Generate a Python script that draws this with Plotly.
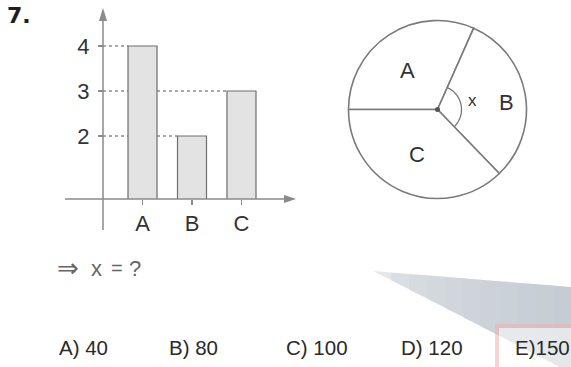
import math
import plotly.graph_objects as go

W, H = 571, 367

# ---------------- data ----------------
categories = ["A", "B", "C"]
bar_values = [4, 2, 3]
y_ticks = [2, 3, 4]
pie_labels = ["A", "B", "C"]
pie_angles = [114, 112, 134]          # slice angles as drawn in the circle (degrees)
angle_label = "x"
question_parts = ["⇒", "x", "=", "?"]
problem_number = "7."
answer_labels = ["A) 40", "B) 80", "C) 100", "D) 120", "E)150"]


def px(x):
    return x / W


def py(y):
    return 1 - y / H


FONT = "Liberation Sans, Arial, Helvetica, sans-serif"
AXIS_GREY = "#8a8a8a"

fig = go.Figure()

bar_w = 0.586
fig.add_trace(go.Bar(
    x=categories, y=bar_values, width=bar_w,
    marker=dict(color="#e3e3e3", line=dict(color="#6e6e6e", width=1.2)),
    hoverinfo="skip", showlegend=False,
))

fig.add_trace(go.Pie(
    labels=pie_labels, values=pie_angles, sort=False,
    direction="clockwise", rotation=270, textinfo="none",
    marker=dict(colors=["white"] * 3, line=dict(color="#7a7a7a", width=1.6)),
    domain=dict(x=[px(348.5), px(526.5)], y=[py(198.5), py(20.5)]),
    hoverinfo="skip", showlegend=False,
))

# axis geometry (pixel layout of the sketch)
x_left_px, x_right_px = 65, 295
y_top_px, y_base_px = 10, 199
x_range = [-1.566, 3.081]
y_range = [0.6, 4.8]
yaxis_px = 103


def data_x_of_px(p):
    return x_range[0] + (p - x_left_px) / (x_right_px - x_left_px) * (x_range[1] - x_range[0])


shapes = []

# watermark (faded logo) in the lower right, drawn as gradient strips
def wm_top(x):
    return 271 + (x - 373) * (16 / 198)


def wm_bot(x):
    return min(367, 271 + (x - 373) * 0.515)


strip_edges = [373 + k * 18 for k in range(12)] + [571]
def lerp_col(t):
    c0 = (228, 231, 234)
    c1 = (196, 203, 210)
    return "rgb(%d,%d,%d)" % tuple(round(a + (b - a) * t) for a, b in zip(c0, c1))

xm = 373 + (367 - 271) / 0.515
for k in range(len(strip_edges) - 1):
    xa, xb = strip_edges[k], strip_edges[k + 1]
    if xa < xm < xb:
        poly = [(xa, wm_top(xa)), (xb + 0.6, wm_top(xb)), (xb + 0.6, 367), (xm, 367), (xa, wm_bot(xa))]
    else:
        poly = [(xa, wm_top(xa)), (xb + 0.6, wm_top(xb)), (xb + 0.6, wm_bot(xb)), (xa, wm_bot(xa))]
    t = min(1.0, (k / (len(strip_edges) - 2)) ** 0.5)
    shapes.append(dict(type="path", xref="paper", yref="paper",
                       path="M " + " L ".join(f"{px(a)},{py(b)}" for a, b in poly) + " Z",
                       fillcolor=lerp_col(t), line=dict(width=0), layer="below"))

shapes.append(dict(type="rect", xref="paper", yref="paper",
                   x0=px(499), x1=px(571), y0=py(367), y1=py(328),
                   fillcolor="rgba(255,255,255,0.55)", line=dict(width=0), layer="below"))
shapes.append(dict(type="path", xref="paper", yref="paper",
                   path=f"M {px(497)},{py(367)} L {px(497)},{py(326)} L {px(571)},{py(326)}",
                   line=dict(color="rgba(240,175,175,0.55)", width=4), layer="below"))

# dotted guide lines from y-axis to each bar top
x_axis_data = data_x_of_px(yaxis_px)
for i, v in enumerate(bar_values):
    shapes.append(dict(type="line", xref="x", yref="y",
                       x0=x_axis_data, x1=i - bar_w / 2, y0=v, y1=v,
                       line=dict(color="#555555", width=1, dash="dot"), layer="below"))

# axis lines with arrows
shapes.append(dict(type="line", xref="paper", yref="paper",
                   x0=px(x_left_px), x1=px(288), y0=py(y_base_px), y1=py(y_base_px),
                   line=dict(color=AXIS_GREY, width=1.5)))
shapes.append(dict(type="path", xref="paper", yref="paper",
                   path=f"M {px(284)},{py(195)} L {px(296)},{py(199)} L {px(284)},{py(203)} Z",
                   fillcolor=AXIS_GREY, line=dict(width=0)))
shapes.append(dict(type="line", xref="paper", yref="paper",
                   x0=px(yaxis_px), x1=px(yaxis_px), y0=py(230), y1=py(18),
                   line=dict(color=AXIS_GREY, width=1.5)))
shapes.append(dict(type="path", xref="paper", yref="paper",
                   path=f"M {px(99)},{py(21)} L {px(103)},{py(8)} L {px(107)},{py(21)} Z",
                   fillcolor=AXIS_GREY, line=dict(width=0)))

# angle arc for slice B and centre dot
cx, cy, r_arc = 437.5, 109.5, 24
b_start_compass = (270 + pie_angles[0]) % 360
b_end_compass = b_start_compass + pie_angles[1]
pts = []
n = 40
for k in range(n + 1):
    comp = b_start_compass + (b_end_compass - b_start_compass) * k / n
    a = math.radians(90 - comp)
    pts.append((cx + r_arc * math.cos(a), cy - r_arc * math.sin(a)))
shapes.append(dict(type="path", xref="paper", yref="paper",
                   path="M " + " L ".join(f"{px(a)},{py(b)}" for a, b in pts),
                   line=dict(color="#777777", width=1.3)))
shapes.append(dict(type="circle", xref="paper", yref="paper",
                   x0=px(cx - 2.5), x1=px(cx + 2.5), y0=py(cy + 2.5), y1=py(cy - 2.5),
                   fillcolor="#555555", line=dict(width=0)))

annotations = []


def txt(s, x, y, size, color="#333333", xanchor="center", bold=False, family=FONT):
    annotations.append(dict(text=f"<b>{s}</b>" if bold else s, x=px(x), y=py(y),
                            xref="paper", yref="paper", showarrow=False,
                            xanchor=xanchor, yanchor="middle",
                            font=dict(family=family, size=size, color=color)))


txt(problem_number, 5, 15, 22, "#1e1e1e", xanchor="left", bold=True,
    family="DejaVu Sans, Liberation Sans, sans-serif")

pie_label_pos = [(408, 70), (506, 102), (417, 154)]
for lab, (a, b) in zip(pie_labels, pie_label_pos):
    txt(lab, a, b, 22, "#333333")
txt(angle_label, 472, 101, 17, "#333333")

question_x = [68, 96, 117, 135]
question_size = [26, 22, 20, 22]
for s, a, fs in zip(question_parts, question_x, question_size):
    txt(s, a, 268, fs, "#666666", family="DejaVu Sans, Liberation Sans, sans-serif" if s == "⇒" else FONT)

answer_x = [57, 167, 284, 399, 513]
for lab, a in zip(answer_labels, answer_x):
    txt(lab, a, 347, 20.5, "#2a2a2a", xanchor="left")

fig.update_layout(
    width=W, height=H, autosize=False,
    margin=dict(l=0, r=0, t=0, b=0),
    paper_bgcolor="white", plot_bgcolor="rgba(0,0,0,0)",
    showlegend=False,
    xaxis=dict(domain=[px(x_left_px), px(x_right_px)], range=x_range,
               type="category", categoryorder="array", categoryarray=categories,
               showgrid=False, zeroline=False, showline=False,
               ticks="outside", ticklen=5, tickwidth=1.5, tickcolor=AXIS_GREY,
               tickfont=dict(family=FONT, size=22, color="#333333"),
               ticklabelstandoff=0, fixedrange=True),
    yaxis=dict(domain=[py(y_base_px), py(y_top_px)], range=y_range,
               anchor="free", position=px(yaxis_px),
               tickvals=y_ticks, ticktext=[str(t) for t in y_ticks],
               showgrid=False, zeroline=False, showline=False,
               ticks="outside", ticklen=5, tickwidth=1.5, tickcolor=AXIS_GREY,
               tickfont=dict(family=FONT, size=22, color="#333333"),
               ticklabelstandoff=4, fixedrange=True),
    shapes=shapes, annotations=annotations,
)

fig.write_html(
    "out.html",
    config={"displayModeBar": False, "staticPlot": True},
    post_script="document.body.style.margin='0';document.body.style.overflow='hidden';",
)
